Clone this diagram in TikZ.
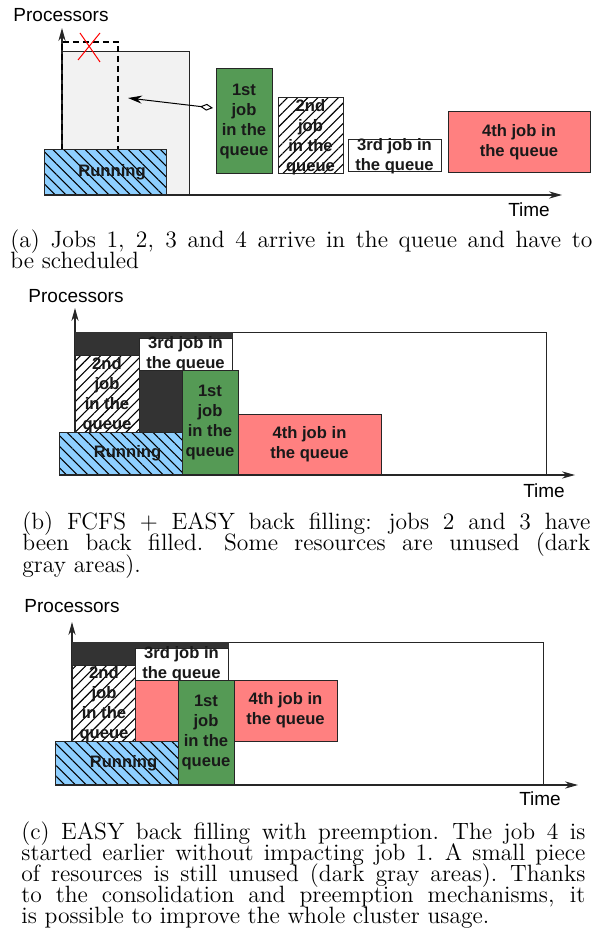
\documentclass[tikz,border=0pt]{standalone}
\usepackage{fontspec}
\newfontfamily\lsans{Liberation Sans}
\usetikzlibrary{arrows.meta,patterns.meta,fit}

\definecolor{jobgreen}{HTML}{559A55}
\definecolor{jobpink}{HTML}{FF8080}
\definecolor{runblue}{HTML}{8ECFFF}
\definecolor{idlegray}{HTML}{F2F2F2}
\definecolor{wastegray}{HTML}{333333}

\newcommand\labfont{\lsans\bfseries\fontsize{8.3}{10}\selectfont}
\newcommand\axfont{\lsans\fontsize{9.5}{11}\selectfont}
% caption text: milder stretch after full stops and colons
\newcommand\capfont{\fontsize{11.8}{14}\selectfont\sfcode`\.=1500 \sfcode`\:=1500 }

\tikzset{
  jbox/.style={draw=black!85, line width=0.5pt, inner sep=0pt},
  firstjob/.style={jbox, fill=jobgreen},
  secondjob/.style={jbox, preaction={fill=white},
    pattern={Lines[angle=45, distance=3.6pt, line width=0.55pt]}, pattern color=black},
  thirdjob/.style={jbox, fill=white},
  fourthjob/.style={jbox, fill=jobpink},
  running/.style={jbox, preaction={fill=runblue},
    pattern={Lines[angle=-45, distance=3.8pt, line width=0.55pt]}, pattern color=black},
  idlebox/.style={jbox, fill=idlegray},
  wastebox/.style={draw=wastegray, fill=wastegray, line width=0.5pt, inner sep=0pt},
  gridframe/.style={jbox, fill=white},
  lbl/.style={font=\labfont, align=center, inner sep=0pt, text=black!90},
  axlbl/.style={font=\axfont, inner sep=0pt, anchor=base},
  axisline/.style={draw=black!85, line width=0.55pt, -{Stealth[length=6.5pt, width=3.6pt]}},
  resv/.style={draw=black, line width=1pt, dash pattern=on 3pt off 2pt},
  redcross/.style={draw=red, line width=0.5pt},
  assign/.style={draw=black, line width=0.5pt,
    {Diamond[open, length=6.5pt, width=3.4pt]}-{Stealth[length=7pt, width=4pt]}},
  captext/.style={font=\capfont, inner sep=0pt, anchor=base west},
}

\begin{document}
\begin{tikzpicture}[x=0.5pt, y={(0pt,-0.5pt)}]
\useasboundingbox (0,0) rectangle (608,935);

% ---------------- (a) jobs waiting in the queue ----------------
\coordinate (ay0) at (62,195);
\coordinate (ay1) at (62,28);
\draw[axisline] (ay0) -- (ay1);
\node[idlebox, fit={(62,52) (189,195)}] (aidle) {};
\node[inner sep=0pt, fit={(62,42) (118,150)}] (aresv) {};
\draw[resv] (aresv.south west) -- (aresv.north west) -- (aresv.north east) -- (aresv.south east);
\coordinate (ax1) at (80,33);  \coordinate (ax2) at (100,62);
\coordinate (ax3) at (100,33); \coordinate (ax4) at (78,60);
\draw[redcross] (ax1) -- (ax2);
\draw[redcross] (ax3) -- (ax4);
\node[running, fit={(44,150) (166,195)}] (arun) {};
\node[lbl] (arunt) at ([xshift=3.5pt]arun.center) {Running};
\node[firstjob, fit={(216,69) (272,174)}] (a1) {};
\node[lbl] (a1t) at (a1.center) {1st\\job\\in the\\queue};
\node[secondjob, fit={(278,98) (343,174)}] (a2) {};
\node[lbl] (a2t) at ([yshift=-0.7pt]a2.center) {2nd\\job\\in the\\queue};
\node[thirdjob, fit={(348,140) (441,172)}] (a3) {};
\node[lbl] (a3t) at (a3.center) {3rd job in\\the queue};
\node[fourthjob, fit={(448,112) (590,173)}] (a4) {};
\node[lbl] (a4t) at (a4.center) {4th job in\\the queue};
\coordinate (aq) at (213,108);
\coordinate (at) at (128,98);
\draw[assign] (aq) -- (at);
\coordinate (at0) at (44,195);
\coordinate (at1) at (562,195);
\draw[axisline] (at0) -- (at1);
\node[axlbl] (aproc) at (61,22) {Processors};
\node[axlbl] (atime) at (529,217) {Time};

\node[captext] (capa1) at (10,247.7) {\makebox[291pt][s]{(a) Jobs 1, 2, 3 and 4 arrive in the queue and have to}};
\node[captext] (capa2) at (10,268.7) {be scheduled};

% ---------------- (b) FCFS + EASY back filling ----------------
\coordinate (by0) at (75,475);
\coordinate (by1) at (75,308);
\draw[axisline] (by0) -- (by1);
\node[gridframe, fit={(75,332) (546,475)}] (bframe) {};
\node[wastebox, fit={(75,332) (232,432)}] (bwaste) {};
\node[secondjob, fit={(75,355) (139,432)}] (b2) {};
\node[lbl] (b2t) at ([yshift=-0.7pt]b2.center) {2nd\\job\\in the\\queue};
\node[thirdjob, fit={(139,338) (232,370)}] (b3) {};
\node[lbl] (b3t) at (b3.center) {3rd job in\\the queue};
\node[running, fit={(59,432) (182,475)}] (brun) {};
\node[lbl] (brunt) at ([xshift=3.5pt]brun.center) {Running};
\node[firstjob, fit={(182,370) (238,475)}] (b1) {};
\node[lbl] (b1t) at (b1.center) {1st\\job\\in the\\queue};
\node[fourthjob, fit={(238,414) (381,475)}] (b4) {};
\node[lbl] (b4t) at (b4.center) {4th job in\\the queue};
\coordinate (bt0) at (59,475);
\coordinate (bt1) at (575,475);
\draw[axisline] (bt0) -- (bt1);
\node[axlbl] (bproc) at (76,302) {Processors};
\node[axlbl] (btime) at (544,497) {Time};

\node[captext] (capb1) at (22,529) {\makebox[284pt][s]{(b) FCFS + EASY back filling: jobs 2 and 3 have}};
\node[captext] (capb2) at (22,550.5) {\makebox[284pt][s]{been back filled. Some resources are unused (dark}};
\node[captext] (capb3) at (22,572) {gray areas).};

% ---------------- (c) EASY back filling with preemption ----------------
\coordinate (cy0) at (72,785);
\coordinate (cy1) at (72,622);
\draw[axisline] (cy0) -- (cy1);
\node[gridframe, fit={(72,642) (543,785)}] (cframe) {};
\node[wastebox, fit={(72,642) (228,741)}] (cwaste) {};
\node[secondjob, fit={(72,665) (136,741)}] (c2) {};
\node[lbl] (c2t) at ([yshift=-0.7pt]c2.center) {2nd\\job\\in the\\queue};
\node[thirdjob, fit={(135,648) (228,680)}] (c3) {};
\node[lbl] (c3t) at (c3.center) {3rd job in\\the queue};
\node[fourthjob, fit={(135,680) (178,741)}] (c4a) {};
\node[running, fit={(55,741) (178,785)}] (crun) {};
\node[lbl] (crunt) at ([xshift=3.5pt]crun.center) {Running};
\node[firstjob, fit={(178,680) (234,785)}] (c1) {};
\node[lbl] (c1t) at (c1.center) {1st\\job\\in the\\queue};
\node[fourthjob, fit={(234,680) (337,741)}] (c4) {};
\node[lbl] (c4t) at (c4.center) {4th job in\\the queue};
\coordinate (ct0) at (55,785);
\coordinate (ct1) at (578,785);
\draw[axisline] (ct0) -- (ct1);
\node[axlbl] (cproc) at (72,612) {Processors};
\node[axlbl] (ctime) at (540,805) {Time};

\node[captext] (capc1) at (21,839) {\makebox[282pt][s]{(c) EASY back filling with preemption. The job 4 is}};
\node[captext] (capc2) at (21,860) {\makebox[282pt][s]{started earlier without impacting job 1. A small piece}};
\node[captext] (capc3) at (21,881) {\makebox[282pt][s]{of resources is still unused (dark gray areas). Thanks}};
\node[captext] (capc4) at (21,902) {\makebox[282pt][s]{to the consolidation and preemption mechanisms, it}};
\node[captext] (capc5) at (21,923) {is possible to improve the whole cluster usage.};
\end{tikzpicture}
\end{document}
